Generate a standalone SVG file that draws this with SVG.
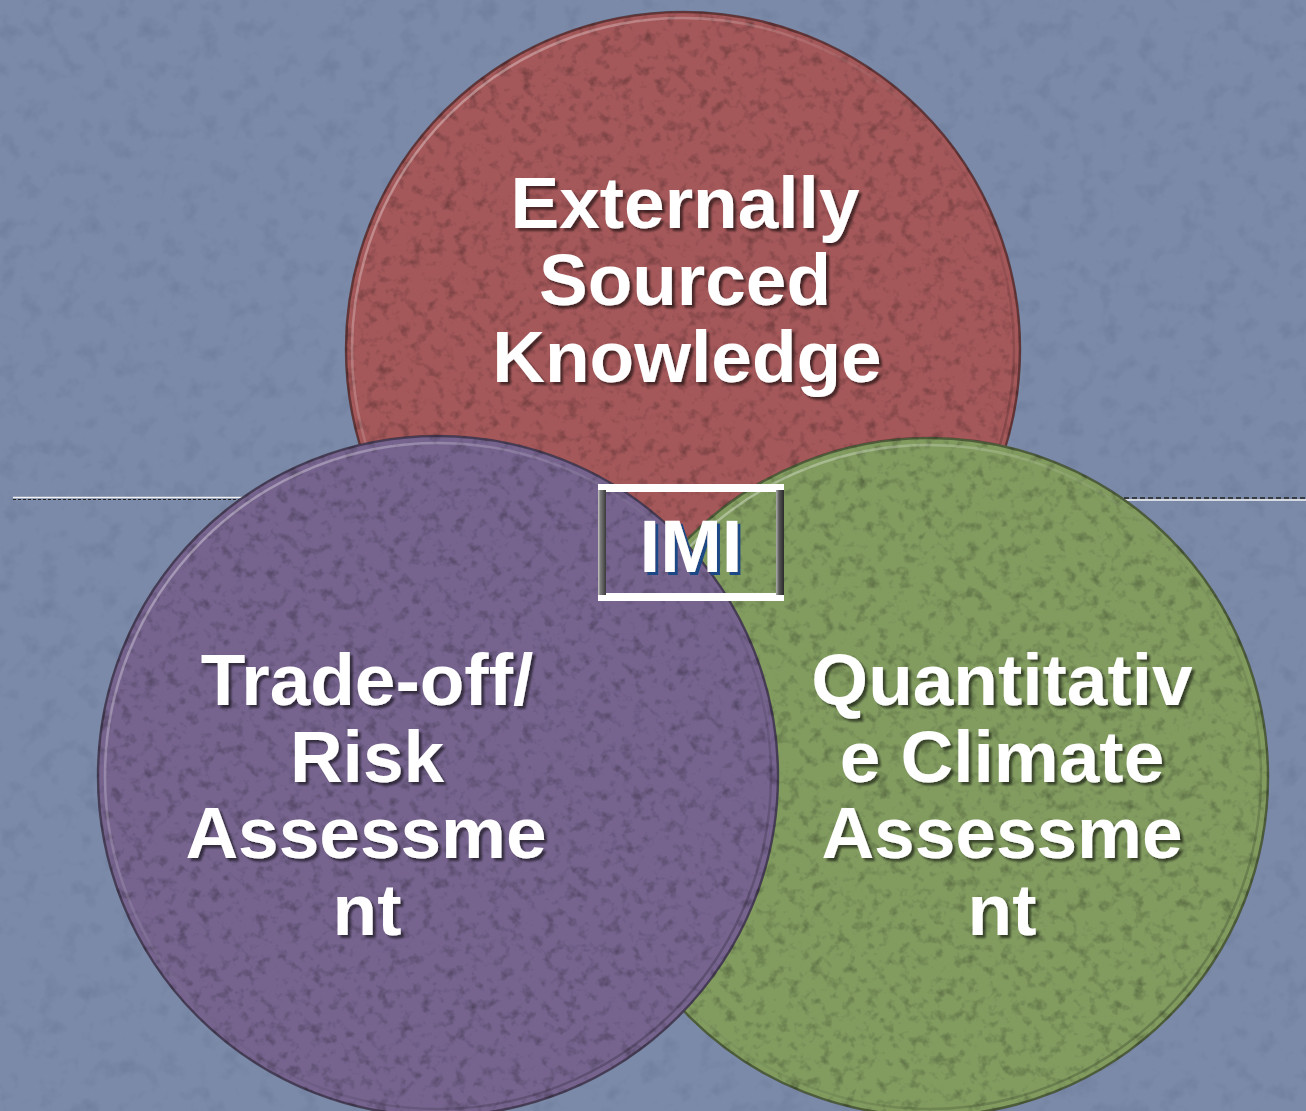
<svg xmlns="http://www.w3.org/2000/svg" width="1306" height="1111" viewBox="0 0 1306 1111">
  <style>
    .label { font-family: "Liberation Sans", Arial, sans-serif; font-weight: bold; font-size: 73px; fill: #ffffff; text-anchor: middle; filter: url(#textShadow); }
    .rim { fill: none; stroke: rgba(0,0,0,0.4); stroke-width: 2.5; }
    .bevel { fill: none; stroke-width: 2.5; }
  </style>
  <defs>
    <!-- fine mottled paper texture over any filled shape -->
    <filter id="grain" x="0" y="0" width="100%" height="100%" color-interpolation-filters="sRGB">
      <feTurbulence type="fractalNoise" baseFrequency="0.09" numOctaves="3" seed="7" result="noise"/>
      <feColorMatrix in="noise" type="matrix" values="0 0 0 0 0  0 0 0 0 0  0 0 0 0 0  0.7 0 0 0 -0.36" result="spots"/>
      <feComposite in="spots" in2="SourceGraphic" operator="in" result="darkSpots"/>
      <feMerge>
        <feMergeNode in="SourceGraphic"/>
        <feMergeNode in="darkSpots"/>
      </feMerge>
    </filter>
    <filter id="bgGrain" x="0" y="0" width="100%" height="100%" color-interpolation-filters="sRGB">
      <feTurbulence type="fractalNoise" baseFrequency="0.05" numOctaves="3" seed="2" result="noise"/>
      <feColorMatrix in="noise" type="matrix" values="0 0 0 0 0.25  0 0 0 0 0.3  0 0 0 0 0.45  0.45 0 0 0 -0.24" result="spots"/>
      <feComposite in="spots" in2="SourceGraphic" operator="in" result="darkSpots"/>
      <feMerge>
        <feMergeNode in="SourceGraphic"/>
        <feMergeNode in="darkSpots"/>
      </feMerge>
    </filter>
    <filter id="textShadow" x="-10%" y="-20%" width="120%" height="140%">
      <feDropShadow dx="3" dy="3" stdDeviation="1.2" flood-color="#000000" flood-opacity="0.55"/>
    </filter>
    <filter id="badgeShadow" x="-10%" y="-20%" width="120%" height="140%">
      <feDropShadow dx="3" dy="3" stdDeviation="0.3" flood-color="#1e4a86" flood-opacity="1"/>
    </filter>
    <!-- inner bevel ring: light at upper-left, dark at lower-right -->
    <linearGradient id="bevelGrad" x1="0" y1="0" x2="1" y2="1">
      <stop offset="0" stop-color="#ffffff" stop-opacity="0.5"/>
      <stop offset="0.35" stop-color="#ffffff" stop-opacity="0.12"/>
      <stop offset="0.6" stop-color="#000000" stop-opacity="0.05"/>
      <stop offset="1" stop-color="#000000" stop-opacity="0.3"/>
    </linearGradient>
    <linearGradient id="frameLeft" x1="0" y1="0" x2="1" y2="0">
      <stop offset="0" stop-color="#c8c8c8"/>
      <stop offset="0.3" stop-color="#7a7a7a"/>
      <stop offset="1" stop-color="#3a3a3a"/>
    </linearGradient>
    <linearGradient id="frameRight" x1="0" y1="0" x2="1" y2="0">
      <stop offset="0" stop-color="#b0b0b0"/>
      <stop offset="0.4" stop-color="#555555"/>
      <stop offset="1" stop-color="#2a2a2a"/>
    </linearGradient>
  </defs>

  <!-- background -->
  <rect x="0" y="0" width="1306" height="1111" fill="#7b8aa8" filter="url(#bgGrain)"/>

  <!-- horizontal rule lines behind the circles -->
  <g id="connectors">
    <line x1="13" y1="497.5" x2="700" y2="497.5" stroke="#f4f4f4" stroke-width="1.6"/>
    <line x1="13" y1="499.5" x2="700" y2="499.5" stroke="#222" stroke-width="1.2" stroke-dasharray="3 2"/>
    <line x1="700" y1="498" x2="1306" y2="498" stroke="#222" stroke-width="1.4" stroke-dasharray="5 3"/>
    <line x1="700" y1="500" x2="1306" y2="500" stroke="#f4f4f4" stroke-width="1.6"/>
  </g>

  <!-- top circle -->
  <g id="node-external">
    <circle cx="683" cy="349" r="338" fill="#a5585a" filter="url(#grain)"/>
    <circle class="rim" cx="683" cy="349" r="337"/>
    <circle class="bevel" cx="683" cy="349" r="331" stroke="url(#bevelGrad)"/>
    <text class="label" x="685" y="228">Externally</text>
    <text class="label" x="685" y="305">Sourced</text>
    <text class="label" x="687" y="382">Knowledge</text>
  </g>

  <!-- right circle -->
  <g id="node-quantitative">
    <circle cx="929" cy="777" r="340" fill="#829c60" filter="url(#grain)"/>
    <circle class="rim" cx="929" cy="777" r="339"/>
    <circle class="bevel" cx="929" cy="777" r="332" stroke="url(#bevelGrad)"/>
    <text class="label" x="1002" y="705">Quantitativ</text>
    <text class="label" x="1002" y="782">e Climate</text>
    <text class="label" x="1002" y="858">Assessme</text>
    <text class="label" x="1002" y="935">nt</text>
  </g>

  <!-- left circle -->
  <g id="node-tradeoff">
    <circle cx="438" cy="776" r="341" fill="#76648f" filter="url(#grain)"/>
    <circle class="rim" cx="438" cy="776" r="340"/>
    <circle class="bevel" cx="438" cy="776" r="333" stroke="url(#bevelGrad)"/>
    <text class="label" x="367" y="705">Trade-off/</text>
    <text class="label" x="367" y="782">Risk</text>
    <text class="label" x="366" y="858">Assessme</text>
    <text class="label" x="367" y="935">nt</text>
  </g>

  <!-- centre badge -->
  <g id="node-imi">
    <rect x="598" y="484" width="186" height="8" fill="#ffffff"/>
    <rect x="598" y="593" width="186" height="8" fill="#ffffff"/>
    <rect x="598" y="490" width="8" height="105" fill="url(#frameLeft)"/>
    <rect x="776" y="490" width="8" height="105" fill="url(#frameRight)"/>
    <text x="691" y="572" font-family="'Liberation Sans', Arial, sans-serif" font-weight="bold" font-size="74" text-anchor="middle" fill="#ffffff" filter="url(#badgeShadow)">IMI</text>
  </g>
</svg>
